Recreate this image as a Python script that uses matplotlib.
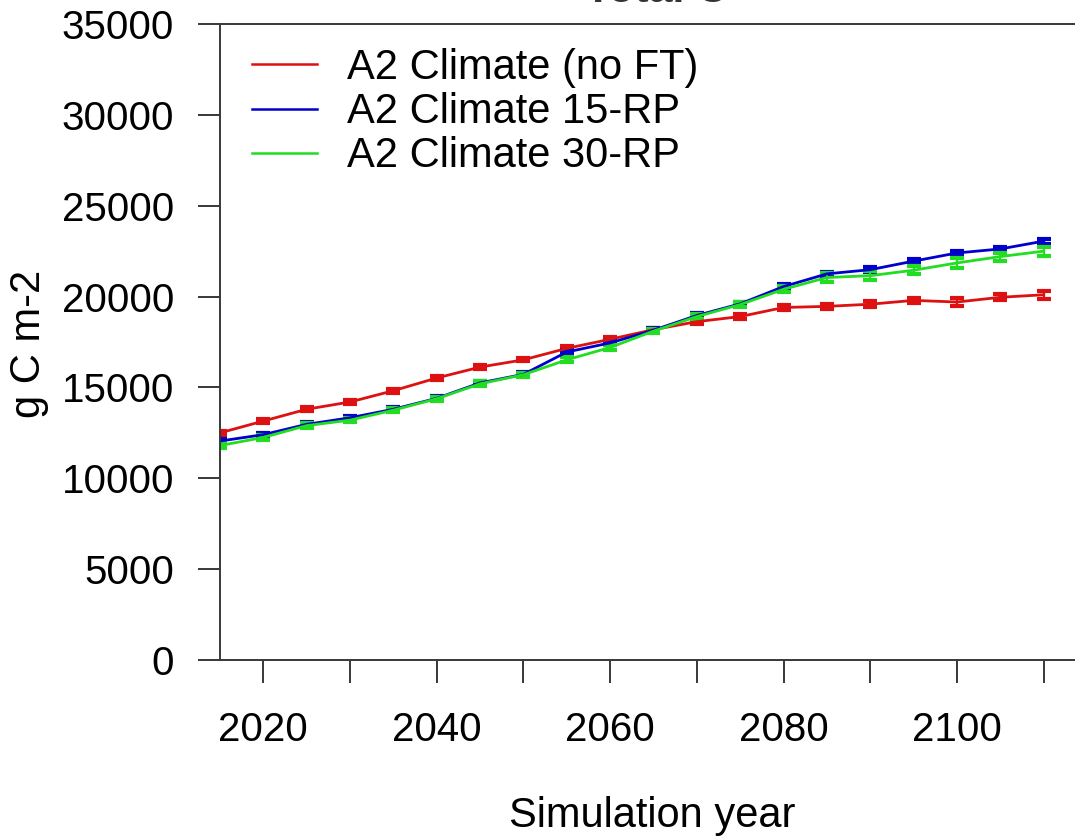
import matplotlib
matplotlib.use("Agg")
import matplotlib.pyplot as plt
from matplotlib.lines import Line2D

plt.rcParams["font.family"] = ["Liberation Sans", "DejaVu Sans"]

years = list(range(2015, 2111, 5))

# A2 Climate (no FT)
red_vals = [12500, 13150, 13800, 14200, 14820, 15520, 16120, 16520, 17150, 17650,
            18180, 18620, 18900, 19400, 19460, 19580, 19790, 19700, 19960, 20100]
red_err = [110, 110, 120, 130, 110, 120, 110, 90, 120, 110,
           90, 110, 120, 120, 150, 160, 150, 230, 160, 210]

# A2 Climate 15-RP
blue_vals = [12050, 12400, 12970, 13330, 13800, 14400, 15250, 15720, 16950, 17450,
             18150, 18960, 19600, 20550, 21250, 21480, 21950, 22400, 22620, 23050]
blue_err = [110, 110, 110, 110, 110, 110, 110, 110, 120, 110,
            110, 110, 110, 120, 120, 120, 130, 130, 120, 130]

# A2 Climate 30-RP
green_vals = [11800, 12250, 12900, 13200, 13750, 14380, 15200, 15700, 16520, 17200,
              18100, 18900, 19560, 20400, 21050, 21150, 21450, 21850, 22200, 22500]
green_err = [130, 120, 130, 130, 120, 120, 130, 120, 130, 120,
             120, 120, 130, 160, 250, 250, 230, 260, 220, 250]

labels = ["A2 Climate (no FT)", "A2 Climate 15-RP", "A2 Climate 30-RP"]
colors = ["#dd1111", "#0000cc", "#22dd22"]

W, H = 1075, 839
fig = plt.figure(figsize=(W / 100, H / 100), dpi=100)
ax = fig.add_axes([220 / W, 1 - 660 / H, (1087 - 220) / W, (660 - 24) / H])

for vals, err, col in [(red_vals, red_err, colors[0]),
                       (blue_vals, blue_err, colors[1]),
                       (green_vals, green_err, colors[2])]:
    ax.errorbar(years, vals, yerr=err, color=col, lw=2.0, elinewidth=1.6,
                capsize=4.8, capthick=3.0)

ax.set_xlim(2015, 2115)
ax.set_ylim(0, 35000)
ax.set_xticks(range(2020, 2111, 10))
ax.set_xticklabels([str(y) if y % 20 == 0 else "" for y in range(2020, 2111, 10)])
ax.set_yticks(range(0, 35001, 5000))

for s in ["left", "bottom", "top", "right"]:
    ax.spines[s].set_color("#383838")
    ax.spines[s].set_linewidth(1.4)
ax.tick_params(axis="both", direction="out", colors="#383838", labelcolor="black",
               width=1.4, labelsize=29)
ax.tick_params(axis="y", length=16, pad=17)
ax.tick_params(axis="x", length=16.5, pad=20)

handles = [Line2D([], [], color=c, lw=1.8) for c in colors]
ax.legend(handles, labels, loc="upper left", frameon=False, fontsize=30,
          handlelength=1.56, handletextpad=0.72, labelspacing=0.1,
          borderpad=0, borderaxespad=0,
          bbox_to_anchor=(252 / W, 1 - 48 / H), bbox_transform=fig.transFigure)

fig.text(652 / W, 1 - 827 / H, "Simulation year", fontsize=30, ha="center", va="baseline")
fig.text(29 / W, 1 - 344 / H, "g C m-2", fontsize=30, rotation=90, ha="center", va="center")
fig.text(656 / W, 1 - 1.5 / H, "Total C", fontsize=31, fontweight="bold",
         color="#333333", ha="center", va="baseline")

fig.savefig("out.png", dpi=100)
